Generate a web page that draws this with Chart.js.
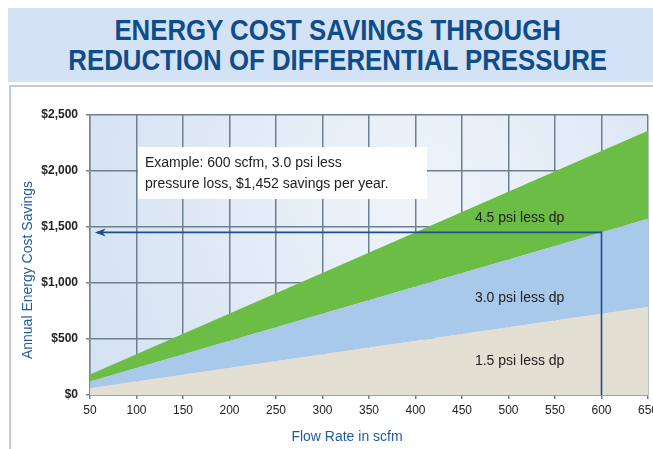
<!DOCTYPE html>
<html lang="en">
<head>
  <meta charset="UTF-8">
  <title>Energy Cost Savings</title>
  <script src="https://cdn.jsdelivr.net/npm/chart.js"></script>
  <style>
    body {
      margin: 0;
      background: #fff;
      font-family: 'Liberation Sans', sans-serif;
    }
    #wrap {
      position: relative;
      width: 653px;
      height: 449px;
    }
    #title {
      position: absolute;
      left: 8px;
      top: 8px;
      width: 645px;
      height: 74px;
      background: #d3e2f4;
      text-align: center;
      padding-top: 7px;
      box-sizing: border-box;
      padding-left: 14px;
    }
    #title span {
      display: inline-block;
      color: #0f4c8a;
      font-weight: bold;
      font-size: 29px;
      line-height: 30px;
      transform: scaleX(0.89);
      white-space: nowrap;
    }
    canvas {
      position: absolute;
      left: 0;
      top: 0;
    }
  </style>
</head>
<body>
  <div id="wrap">
    <canvas id="chart" width="653" height="449"></canvas>
    <div id="title"><span>ENERGY COST SAVINGS THROUGH<br>REDUCTION OF DIFFERENTIAL PRESSURE</span></div>
  </div>

  <script>
    // flow rate (scfm) and cumulative annual savings for each band
    const flow = [50, 600, 650];
    const psi15 = [60, 726, 786];
    const psi30 = [121, 1452, 1573];
    const psi45 = [182, 2178, 2360];
    const xTicks = [50, 100, 150, 200, 250, 300, 350, 400, 450, 500, 550, 600, 650];
    const yTicks = [0, 500, 1000, 1500, 2000, 2500];

    const sans = "'Liberation Sans', sans-serif";
    const gridColor = '#6e7f90';

    function pts(vals) {
      return flow.map((f, i) => ({ x: f, y: vals[i] }));
    }

    const extras = {
      id: 'extras',
      beforeDraw(chart) {
        const c = chart.ctx;
        const a = chart.chartArea;
        // outer frame
        c.save();
        c.strokeStyle = '#c6cbd1';
        c.lineWidth = 2;
        c.beginPath();
        c.moveTo(653, 86);
        c.lineTo(10, 86);
        c.lineTo(10, 449);
        c.stroke();
        // plot background
        const g = c.createRadialGradient(420, 200, 20, 420, 200, 380);
        g.addColorStop(0, '#eef3fa');
        g.addColorStop(1, '#d3e1f2');
        c.fillStyle = g;
        c.fillRect(a.left, a.top, a.right - a.left, a.bottom - a.top);
        c.restore();
      },
      afterDatasetsDraw(chart) {
        const c = chart.ctx;
        const x = chart.scales.x;
        const y = chart.scales.y;
        c.save();
        // example arrow
        const px = x.getPixelForValue(600);
        const py = y.getPixelForValue(1452);
        const tip = x.getPixelForValue(55);
        c.strokeStyle = '#1d4f8c';
        c.fillStyle = '#1d4f8c';
        c.lineWidth = 1.6;
        c.beginPath();
        c.moveTo(px, y.getPixelForValue(0));
        c.lineTo(px, py);
        c.lineTo(tip + 4, py);
        c.stroke();
        c.beginPath();
        c.moveTo(tip, py);
        c.lineTo(tip + 11, py - 4);
        c.lineTo(tip + 8, py);
        c.lineTo(tip + 11, py + 4);
        c.closePath();
        c.fill();

        // example box
        c.fillStyle = '#ffffff';
        c.fillRect(138, 147, 289, 52);
        c.fillStyle = '#222';
        c.font = '14px ' + sans;
        c.textBaseline = 'middle';
        c.textAlign = 'left';
        c.fillText('Example: 600 scfm, 3.0 psi less', 145, 163);
        c.fillText('pressure loss, $1,452 savings per year.', 145, 184);

        // band labels
        c.textAlign = 'center';
        const lx = x.getPixelForValue(512);
        c.fillText('4.5 psi less dp', lx, y.getPixelForValue(1580));
        c.fillText('3.0 psi less dp', lx, y.getPixelForValue(866));
        c.fillText('1.5 psi less dp', lx, y.getPixelForValue(304));

        // axis titles
        c.fillStyle = '#1f5c9c';
        c.fillText('Flow Rate in scfm', 347, 437);
        c.translate(28, 270);
        c.rotate(-Math.PI / 2);
        c.fillText('Annual Energy Cost Savings', 0, 0);
        c.restore();
      }
    };

    new Chart(document.getElementById('chart'), {
      type: 'line',
      data: {
        datasets: [
          { label: '1.5 psi less dp', data: pts(psi15), fill: 'origin', backgroundColor: '#e4dfd3' },
          { label: '3.0 psi less dp', data: pts(psi30), fill: '-1', backgroundColor: '#a9c9ea' },
          { label: '4.5 psi less dp', data: pts(psi45), fill: '-1', backgroundColor: '#6bbd45' }
        ]
      },
      options: {
        responsive: false,
        animation: false,
        layout: { padding: { top: 115, right: 5, left: 0, bottom: 0 } },
        elements: {
          line: { borderWidth: 0, tension: 0 },
          point: { radius: 0 }
        },
        plugins: {
          legend: { display: false },
          tooltip: { enabled: false }
        },
        scales: {
          x: {
            type: 'linear',
            min: 50,
            max: 650,
            afterFit(s) { s.height = 54; s.paddingRight = 0; s.paddingLeft = 0; },
            afterBuildTicks(s) { s.ticks = xTicks.map(v => ({ value: v })); },
            grid: { color: gridColor, lineWidth: 1.5, tickLength: 4 },
            border: { color: '#7d8a96', width: 1.5 },
            ticks: {
              color: '#222',
              font: { family: sans, size: 12 },
              padding: 4,
              maxRotation: 0
            }
          },
          y: {
            min: 0,
            max: 2500,
            afterFit(s) { s.width = 90; },
            afterBuildTicks(s) { s.ticks = yTicks.map(v => ({ value: v })); },
            grid: { color: gridColor, lineWidth: 1.5, tickLength: 4 },
            border: { color: '#7d8a96', width: 1.5 },
            ticks: {
              color: '#222',
              font: { family: sans, size: 12, weight: 'bold' },
              padding: 8,
              callback: v => '$' + v.toLocaleString('en-US')
            }
          }
        }
      },
      plugins: [extras]
    });
  </script>
</body>
</html>
